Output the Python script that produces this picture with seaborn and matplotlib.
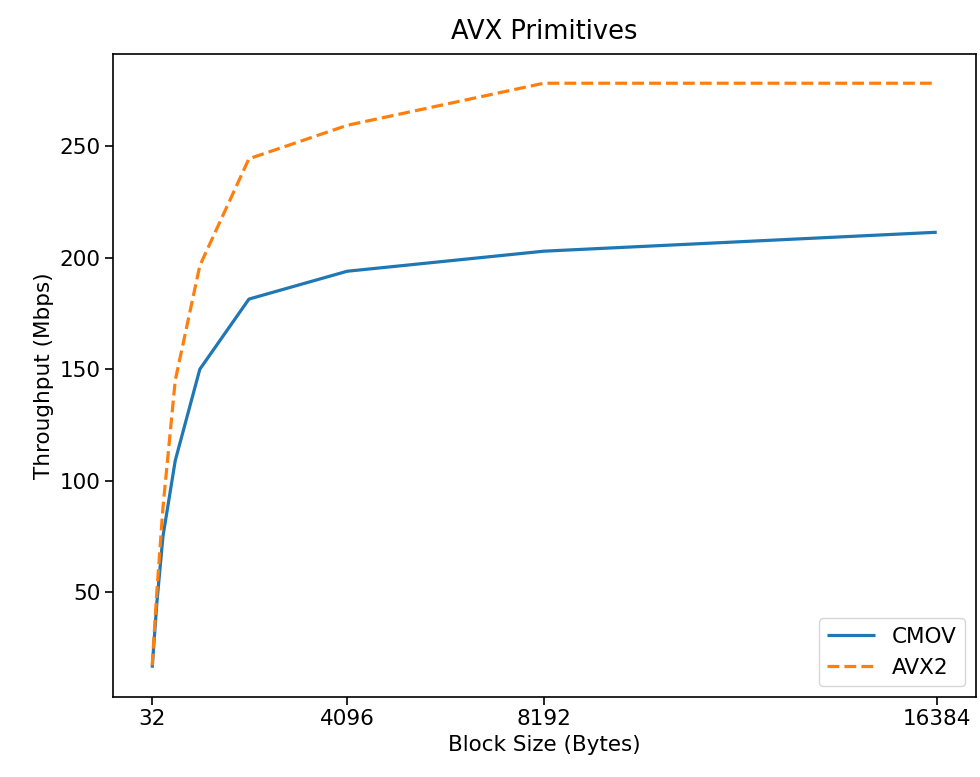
import matplotlib
matplotlib.use("Agg")
import matplotlib.pyplot as plt
import seaborn as sns
import pandas as pd

block_sizes = [32, 64, 128, 256, 512, 1024, 2048, 4096, 8192, 16384]
cmov = [16, 26, 45, 75, 109, 150, 181.5, 194, 203, 211.5]
avx2 = [17, 28, 50, 88, 145, 196.5, 244.5, 259.5, 278.4, 278.4]
series_names = ["CMOV", "AVX2"]
xticks = [32, 4096, 8192, 16384]

df = pd.DataFrame({
    "Block Size (Bytes)": block_sizes * 2,
    "Throughput (Mbps)": cmov + avx2,
    "Series": [series_names[0]] * len(block_sizes) + [series_names[1]] * len(block_sizes),
})

plt.rcParams["font.family"] = ["DejaVu Sans"]
fs = 15.5
fig = plt.figure(figsize=(9.8, 7.77), dpi=100)
ax = fig.add_axes([0.1153, 0.103, 0.8806, 0.8275])

sns.lineplot(data=df, x="Block Size (Bytes)", y="Throughput (Mbps)",
             hue="Series", style="Series",
             palette=["#1f77b4", "#ff7f0e"], dashes=[(1, 0), (3.7, 1.6)],
             linewidth=2.3, ax=ax)

ax.set_xticks(xticks)
ax.set_xticklabels([str(v) for v in xticks])
ax.tick_params(labelsize=fs, length=5.5, width=1.2)
ax.set_xlabel("Block Size (Bytes)", fontsize=fs)
ax.set_ylabel("Throughput (Mbps)", fontsize=fs)
ax.set_title("AVX Primitives", fontsize=18.5, pad=11)
for s in ax.spines.values():
    s.set_linewidth(1.2)
ax.legend(loc="lower right", fontsize=fs, title=None, handlelength=2.2)

fig.savefig("out.png", dpi=100)
